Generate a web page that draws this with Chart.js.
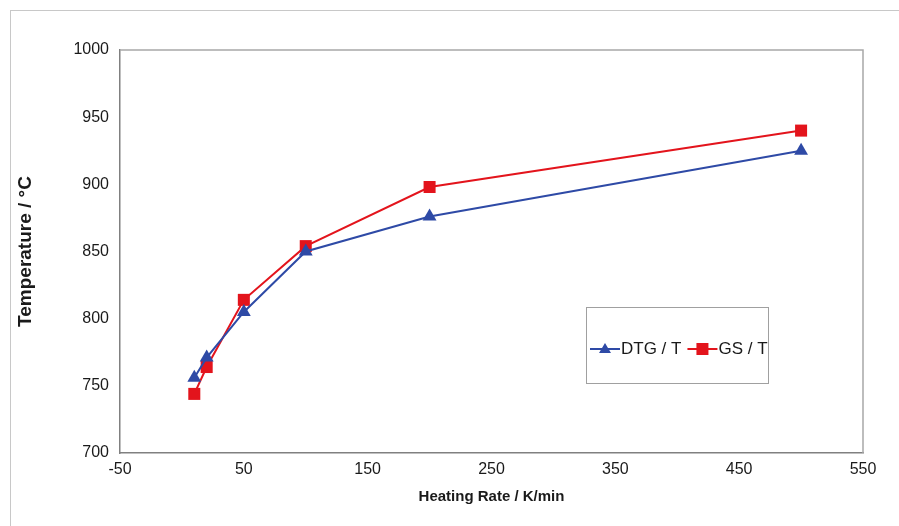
<!DOCTYPE html>
<html>
<head>
<meta charset="utf-8">
<script src="https://cdn.jsdelivr.net/npm/chart.js@4/dist/chart.umd.min.js"></script>
<style>
  html, body { margin: 0; padding: 0; background: #ffffff; }
  #wrap { position: relative; width: 899px; height: 526px; overflow: hidden; }
  #frame { position: absolute; left: 10px; top: 10px; width: 900px; height: 600px; border-left: 1px solid #c8c8c8; border-top: 1px solid #c8c8c8; }
  canvas { position: absolute; left: 0; top: 0; }
</style>
</head>
<body>
<div id="wrap">
  <div id="frame"></div>
  <canvas id="c" width="899" height="526"></canvas>
</div>
<script>
const heatingRates = [10, 20, 50, 100, 200, 500];
const dtgTemps = [756, 771, 805, 850, 876, 925];
const gsTemps = [744, 764, 814, 854, 898, 940];
const seriesLabels = ['DTG / T', 'GS / T'];
const xTickValues = [-50, 50, 150, 250, 350, 450, 550];
const xTitle = 'Heating Rate / K/min';
const yTitle = 'Temperature / °C';

const toPoints = (xs, ys) => xs.map((x, i) => ({ x: x, y: ys[i] }));
const FONT = '"Liberation Sans", Arial, sans-serif';

const frameAndLegend = {
  id: 'frameAndLegend',
  beforeDatasetsDraw(chart) {
    const { ctx, chartArea: a } = chart;
    ctx.save();
    ctx.strokeStyle = '#a8a8a8';
    ctx.lineWidth = 1.5;
    ctx.beginPath();
    ctx.moveTo(a.left, a.top);
    ctx.lineTo(a.right, a.top);
    ctx.lineTo(a.right, a.bottom);
    ctx.stroke();
    ctx.restore();
  },
  afterDatasetsDraw(chart) {
    const { ctx } = chart;
    const bx = 586, by = 307, bw = 182, bh = 76;
    ctx.save();
    ctx.fillStyle = '#ffffff';
    ctx.fillRect(bx, by, bw, bh);
    ctx.strokeStyle = '#a0a0a0';
    ctx.lineWidth = 1;
    ctx.strokeRect(bx + 0.5, by + 0.5, bw, bh);
    ctx.font = '17px ' + FONT;
    ctx.textBaseline = 'middle';
    ctx.textAlign = 'left';
    const cy = 349;
    let x = 590;
    chart.data.datasets.forEach((ds) => {
      ctx.strokeStyle = ds.borderColor;
      ctx.lineWidth = 2;
      ctx.beginPath();
      ctx.moveTo(x, cy);
      ctx.lineTo(x + 30, cy);
      ctx.stroke();
      ctx.fillStyle = ds.backgroundColor;
      const mx = x + 15;
      if (ds.pointStyle === 'triangle') {
        ctx.beginPath();
        ctx.moveTo(mx, cy - 6);
        ctx.lineTo(mx + 6, cy + 4);
        ctx.lineTo(mx - 6, cy + 4);
        ctx.closePath();
        ctx.fill();
      } else {
        ctx.fillRect(mx - 6, cy - 6, 12, 12);
      }
      ctx.fillStyle = '#1a1a1a';
      ctx.fillText(ds.label, x + 31, cy);
      x += 31 + ctx.measureText(ds.label).width + 6;
    });
    ctx.restore();
  }
};

new Chart(document.getElementById('c'), {
  type: 'scatter',
  data: {
    datasets: [
      {
        label: seriesLabels[0],
        data: toPoints(heatingRates, dtgTemps),
        showLine: true,
        borderColor: '#2e4aa6',
        backgroundColor: '#2e4aa6',
        borderWidth: 2,
        pointStyle: 'triangle',
        pointRadius: 8,
        pointBorderWidth: 0
      },
      {
        label: seriesLabels[1],
        data: toPoints(heatingRates, gsTemps),
        showLine: true,
        borderColor: '#e3141c',
        backgroundColor: '#e3141c',
        borderWidth: 2,
        pointStyle: 'rect',
        pointRadius: 8.5,
        pointBorderWidth: 0
      }
    ]
  },
  options: {
    responsive: false,
    animation: false,
    layout: { padding: { left: 10, top: 50, right: 36, bottom: 16 } },
    plugins: {
      legend: { display: false },
      tooltip: { enabled: false }
    },
    scales: {
      x: {
        type: 'linear',
        min: -50,
        max: 550,
        afterFit(s) { s.height = 57; },
        afterBuildTicks(s) { s.ticks = xTickValues.map(v => ({ value: v })); },
        grid: { display: false, drawTicks: true, tickLength: 5, tickColor: '#808080' },
        border: { display: true, color: '#808080', width: 1.5 },
        ticks: { color: '#1a1a1a', font: { size: 16, family: FONT }, padding: 2, maxRotation: 0 },
        title: { display: true, text: xTitle, color: '#1a1a1a', font: { size: 15, weight: 'bold', family: FONT }, padding: { top: 4, bottom: 4 } }
      },
      y: {
        type: 'linear',
        min: 700,
        max: 1000,
        afterFit(s) { s.width = 110; },
        ticks: { stepSize: 50, color: '#1a1a1a', font: { size: 16, family: FONT }, padding: 6, callback: (v) => String(v) },
        grid: { display: false, drawTicks: true, tickLength: 5, tickColor: '#808080' },
        border: { display: true, color: '#808080', width: 1.5 },
        title: { display: true, text: yTitle, color: '#1a1a1a', font: { size: 19, weight: 'bold', family: FONT }, padding: { top: 4, bottom: 0 } }
      }
    }
  },
  plugins: [frameAndLegend]
});
</script>
</body>
</html>
